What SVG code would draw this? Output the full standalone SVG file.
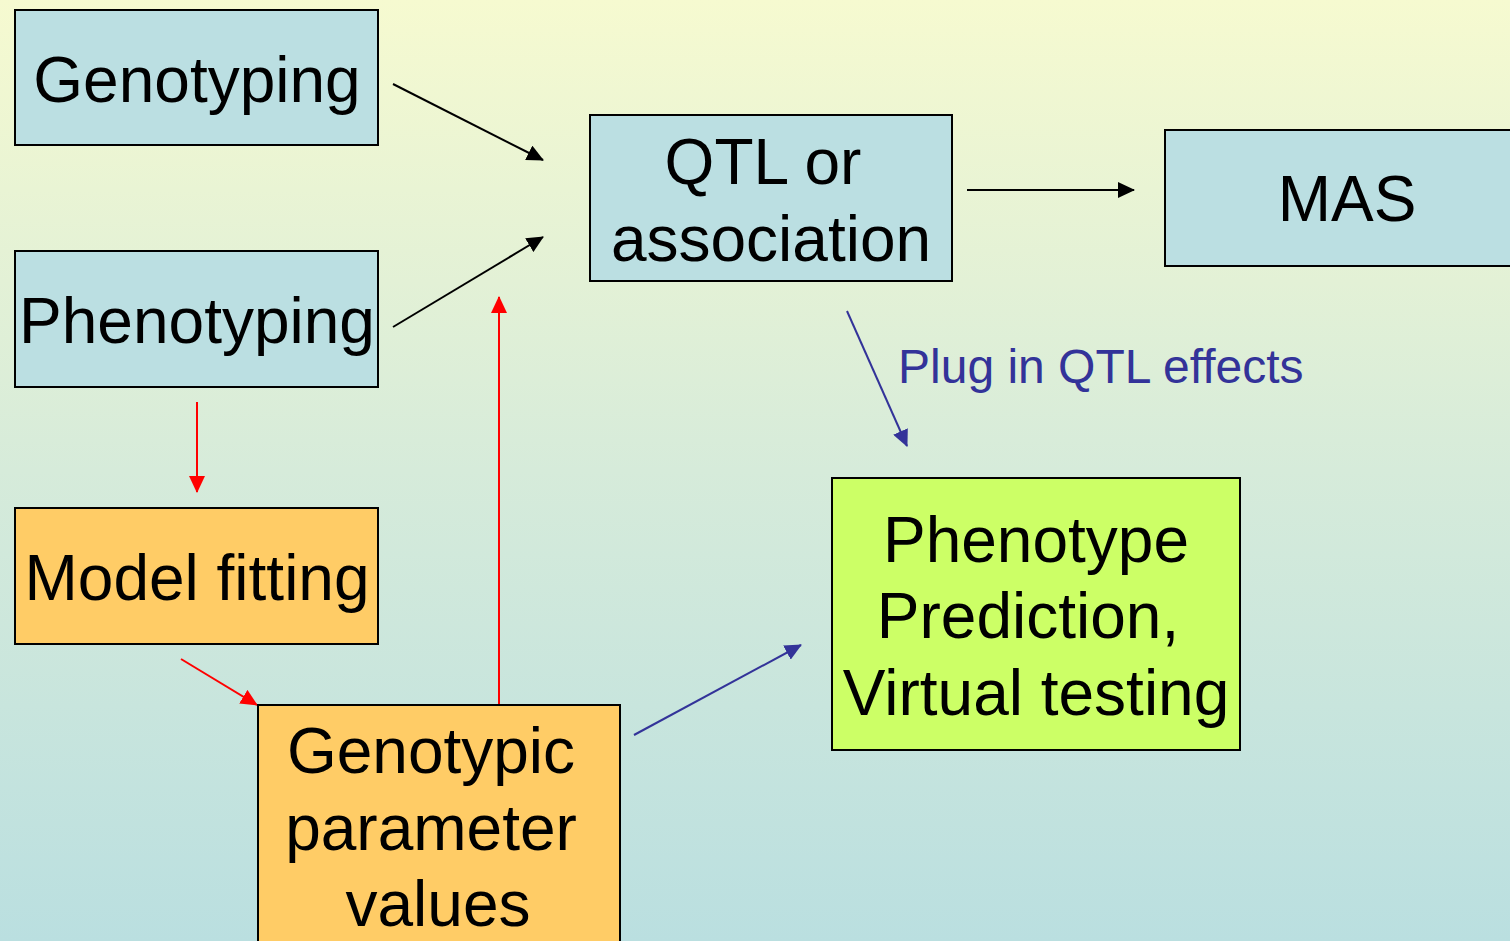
<svg xmlns="http://www.w3.org/2000/svg" width="1510" height="941" viewBox="0 0 1510 941">
<style>
.box{stroke:#000;stroke-width:2}
.blue{fill:#BBDFE2}
.orange{fill:#FFCC66}
.green{fill:#CCFF66}
.t{font-family:"Liberation Sans",Arial,sans-serif;font-size:64px;fill:#000;text-anchor:middle}
.lbl{font-family:"Liberation Sans",Arial,sans-serif;font-size:48px;fill:#333399}
.k{stroke:#000;stroke-width:2;fill:none}
.r{stroke:#FF0000;stroke-width:2;fill:none}
.b{stroke:#333399;stroke-width:2;fill:none}
</style>
<defs>
<linearGradient id="bg" x1="0" y1="0" x2="0" y2="1">
<stop offset="0" stop-color="#F6FAD0"/>
<stop offset="0.5" stop-color="#D6EBDA"/>
<stop offset="1" stop-color="#BADFE0"/>
</linearGradient>
<marker id="ak" markerUnits="userSpaceOnUse" markerWidth="18" markerHeight="16" refX="16" refY="8" orient="auto"><path d="M0,0 L17,8 L0,16 Z" fill="#000"/></marker>
<marker id="ar" markerUnits="userSpaceOnUse" markerWidth="18" markerHeight="16" refX="16" refY="8" orient="auto"><path d="M0,0 L17,8 L0,16 Z" fill="#FF0000"/></marker>
<marker id="ab" markerUnits="userSpaceOnUse" markerWidth="18" markerHeight="16" refX="16" refY="8" orient="auto"><path d="M0,0 L17,8 L0,16 Z" fill="#333399"/></marker>
</defs>
<rect x="0" y="0" width="1510" height="941" fill="url(#bg)"/>
<g id="connectors">
<line class="k" x1="393" y1="84" x2="543" y2="160" marker-end="url(#ak)"/>
<line class="k" x1="393" y1="327" x2="543" y2="237" marker-end="url(#ak)"/>
<line class="k" x1="967" y1="190" x2="1134" y2="190" marker-end="url(#ak)"/>
<line class="r" x1="197" y1="402" x2="197" y2="492" marker-end="url(#ar)"/>
<line class="r" x1="181" y1="659" x2="257" y2="705" marker-end="url(#ar)"/>
<line class="r" x1="499" y1="705" x2="499" y2="297" marker-end="url(#ar)"/>
<line class="b" x1="847" y1="311" x2="907" y2="446" marker-end="url(#ab)"/>
<line class="b" x1="634" y1="735" x2="801" y2="645" marker-end="url(#ab)"/>
<text class="lbl" x="898" y="383">Plug in QTL effects</text>
</g>
<g id="genotyping">
<rect class="box blue" x="15" y="10" width="363" height="135"/>
<text class="t" x="197" y="102">Genotyping</text>
</g>
<g id="phenotyping">
<rect class="box blue" x="15" y="251" width="363" height="136"/>
<text class="t" x="197" y="343">Phenotyping</text>
</g>
<g id="model-fitting">
<rect class="box orange" x="15" y="508" width="363" height="136"/>
<text class="t" x="197" y="600">Model fitting</text>
</g>
<g id="genotypic-parameters">
<rect class="box orange" x="258" y="705" width="362" height="250"/>
<text class="t" x="431" y="773">Genotypic</text>
<text class="t" x="431" y="850">parameter</text>
<text class="t" x="438" y="926">values</text>
</g>
<g id="qtl">
<rect class="box blue" x="590" y="115" width="362" height="166"/>
<text class="t" x="763" y="184">QTL or</text>
<text class="t" x="771" y="261">association</text>
</g>
<g id="mas">
<rect class="box blue" x="1165" y="130" width="360" height="136"/>
<text class="t" x="1347" y="221">MAS</text>
</g>
<g id="phenotype-prediction">
<rect class="box green" x="832" y="478" width="408" height="272"/>
<text class="t" x="1036" y="562">Phenotype</text>
<text class="t" x="1028" y="638">Prediction,</text>
<text class="t" x="1036" y="715">Virtual testing</text>
</g>
</svg>
